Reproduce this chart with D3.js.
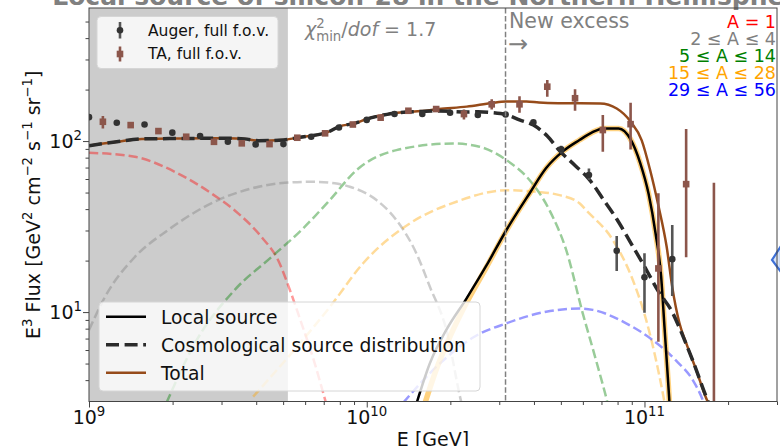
<!DOCTYPE html>
<html>
<head>
<meta charset="utf-8">
<script src="https://cdn.jsdelivr.net/npm/d3@7"></script>
<style>
  html, body { margin: 0; padding: 0; background: #fff; }
  svg { display: block; font-family: "DejaVu Sans", sans-serif; }
</style>
</head>
<body>
<svg id="chart" width="780" height="446"></svg>
<script>
// Energies are log10(E / GeV); fluxes are E^3 J(E) in GeV^2 cm^-2 s^-1 sr^-1.

// Auger spectrum (full field of view)
const augerLogE = [9.0, 9.1, 9.2, 9.3, 9.4, 9.5, 9.6, 9.7, 9.8, 9.9, 10.0, 10.1, 10.2, 10.3, 10.4, 10.5, 10.6, 10.7, 10.8, 10.9, 11.0, 11.1];
const augerFlux = [138, 128, 125, 112, 107, 99, 95.6, 96, 106, 120, 133, 144, 144, 146.5, 142, 143, 128.6, 89.4, 63.3, 22.8, 16.0, 20.4];
const augerLow  = [135, 125.5, 122.5, 110, 105, 97, 93.8, 94, 104, 117.5, 130.5, 141, 141, 143.5, 139, 139.5, 124.5, 85, 59.2, 17.4, 9.9, 12.4];
const augerHigh = [141, 130.5, 127.5, 114, 109, 101, 97.4, 98, 108, 122.5, 135.5, 147, 147, 149.5, 145, 146.5, 132.7, 94, 69.2, 27.9, 22.1, 32.3];

// TA spectrum (full field of view)
const taLogE = [9.05, 9.15, 9.25, 9.35, 9.45, 9.55, 9.65, 9.75, 9.85, 9.95, 10.05, 10.15, 10.25, 10.35, 10.45, 10.55, 10.65, 10.75, 10.85, 10.95, 11.05, 11.15, 11.25];
const taFlux = [129.7, 124, 114.4, 106, 99, 97, 96, 104.6, 111, 125, 137, 150.4, 153.9, 143.8, 164, 164, 208, 178, 116, 125.6, 18, 56, 1.5];
const taLow  = [118.6, 120, 111, 103, 96, 94, 93, 101.5, 108, 121, 133, 146, 149, 133.9, 153, 146.3, 181.6, 150.4, 86.5, 89.4, 6.7, 20.9, 0.5];
const taHigh = [140, 128, 118, 109, 102, 100, 99, 108, 114, 129, 141, 155, 159, 153, 175.4, 183, 227.5, 200.6, 142, 167.6, 49.6, 117.5, 57];

// Model curves: [log10(E), flux]
const totalModel = [[9.0, 94], [9.1, 99], [9.19, 103], [9.35, 103.5], [9.5, 104], [9.56, 103], [9.61, 100.5], [9.70, 101.5],
  [9.755, 105], [9.855, 112], [9.903, 122], [9.957, 127], [10.0, 134.5], [10.06, 142], [10.11, 146.5], [10.2, 150],
  [10.26, 154], [10.36, 159], [10.45, 167], [10.5, 170.5], [10.575, 170.5], [10.62, 168], [10.69, 166.5], [10.84, 166],
  [10.9, 155], [10.95, 130], [10.99, 101], [11.02, 68], [11.05, 42], [11.08, 24], [11.10, 14], [11.126, 8.6],
  [11.15, 6.6], [11.186, 4.6], [11.22, 3.2], [11.24, 2.7]];

const cosmoModel = [[9.0, 94], [9.1, 99], [9.19, 103], [9.35, 103.5], [9.5, 104], [9.56, 103], [9.61, 100.5], [9.70, 101.5],
  [9.755, 105], [9.855, 112], [9.903, 122], [9.957, 127], [10.0, 134.5], [10.06, 142], [10.11, 146.5], [10.2, 149],
  [10.26, 150], [10.36, 148], [10.4, 148.5], [10.45, 147], [10.5, 143], [10.55, 133], [10.6, 124], [10.65, 107],
  [10.694, 88], [10.75, 72], [10.8, 60], [10.85, 46], [10.9, 35], [10.95, 25.5], [11.0, 18.5], [11.05, 13.2],
  [11.1, 10], [11.13, 7.8], [11.15, 6.5], [11.174, 5.2], [11.222, 3.2], [11.24, 2.7]];

const localModel = [[10.18, 2.95], [10.227, 5.0], [10.287, 7.9], [10.359, 12.0], [10.43, 18.6], [10.503, 30.2],
  [10.586, 49.4], [10.646, 69.5], [10.706, 87], [10.766, 101.4], [10.81, 112], [10.853, 118.6],
  [10.907, 118.6], [10.95, 102.3], [10.985, 74.1], [11.015, 49], [11.04, 28.8], [11.06, 16.1], [11.072, 8.2],
  [11.084, 4.17], [11.09, 2.95]];

const localSilicon = [[10.21, 2.95], [10.25, 4.6], [10.3, 7.2], [10.36, 11.4], [10.43, 18.2], [10.503, 30.0],
  [10.586, 49.4], [10.646, 69.5], [10.706, 87], [10.766, 101.4], [10.81, 112], [10.853, 118.6],
  [10.907, 118.6], [10.95, 102.3], [10.985, 74.1], [11.015, 49], [11.04, 28.8], [11.06, 16.1], [11.072, 8.2],
  [11.084, 4.17], [11.09, 2.95]];

// Cosmological contributions by mass group
const cosmoA1 = [[9.0, 85.5], [9.165, 80.9], [9.309, 66.1], [9.441, 49.4], [9.537, 37.8], [9.621, 27.5],
  [9.681, 20.1], [9.723, 13.5], [9.765, 8.6], [9.813, 5.0], [9.847, 3.2], [9.86, 2.7]];
const cosmoA2to4 = [[9.0, 7.85], [9.058, 12.3], [9.165, 21.0], [9.285, 30.2], [9.465, 45.2], [9.585, 52.8],
  [9.705, 57.0], [9.801, 57.8], [9.885, 56.6], [9.939, 54.1], [10.035, 45.2], [10.107, 34.5], [10.179, 22.0],
  [10.227, 14.1], [10.287, 7.85], [10.341, 2.95], [10.35, 2.6]];
const cosmoA5to14 = [[9.279, 2.95], [9.381, 6.56], [9.525, 13.5], [9.657, 21.0], [9.765, 30.2], [9.867, 45.2],
  [9.963, 67.6], [10.107, 88.5], [10.311, 96.8], [10.406, 92.7], [10.503, 77.4], [10.586, 59.2], [10.658, 39.4],
  [10.718, 23.1], [10.778, 9.8], [10.826, 5.2], [10.868, 2.9], [10.875, 2.6]];
const cosmoA15to28 = [[9.591, 3.2], [9.75, 6.3], [9.867, 10.7], [9.987, 19.3], [10.155, 33.0], [10.323, 44.2],
  [10.503, 51.6], [10.61, 50.5], [10.694, 48.3], [10.766, 43.3], [10.79, 39.4], [10.886, 26.4], [10.958, 15.4],
  [11.006, 9.0], [11.042, 5.2], [11.066, 3.35], [11.075, 2.8]];
const cosmoA29to56 = [[10.131, 2.95], [10.263, 5.0], [10.389, 7.2], [10.503, 8.6], [10.646, 10.05], [10.766, 10.5],
  [10.814, 10.3], [10.934, 8.6], [11.03, 6.85], [11.114, 5.2], [11.174, 4.0], [11.21, 3.05], [11.22, 2.75]];

const massLabels = ["A = 1", "2 ≤ A ≤ 4", "5 ≤ A ≤ 14", "15 ≤ A ≤ 28", "29 ≤ A ≤ 56"];
const massColors = ["#ff0000", "#808080", "#008000", "#ffa500", "#0000ff"];
const cosmoComponents = [cosmoA1, cosmoA2to4, cosmoA5to14, cosmoA15to28, cosmoA29to56];

const xMajorTicks = [1e9, 1e10, 1e11];
const yMajorTicks = [10, 100];
const ankleEnergy = 5.2e9;      // end of shaded low-energy band
const excessEnergy = 3.16e10;   // start of the "new excess" region
const chi2dof = 1.7;

// ---------------------------------------------------------------
const svg = d3.select("#chart");
const plotL = 89, plotR = 777, plotT = 8, plotB = 401.5;

const x = d3.scaleLog().domain([1e9, 3e11]).range([plotL, plotR]);
const y = d3.scaleLog().domain([3, 600]).range([plotB, plotT]);
const px = d => x(Math.pow(10, d[0]));
const py = d => y(d[1]);

svg.append("defs").append("clipPath").attr("id", "plotclip")
  .append("rect").attr("x", plotL).attr("y", plotT).attr("width", plotR - plotL).attr("height", plotB - plotT);

// Title (partly above the top of the figure)
svg.append("text")
  .attr("x", (plotL + plotR) / 2).attr("y", 5)
  .attr("text-anchor", "middle")
  .attr("font-size", 25).attr("font-weight", "bold").attr("fill", "#808080")
  .text("Local source of silicon-28 in the Northern Hemisphere");

const plot = svg.append("g").attr("clip-path", "url(#plotclip)");

// Shaded band
plot.append("rect")
  .attr("x", x(1e9)).attr("y", plotT)
  .attr("width", x(ankleEnergy) - x(1e9)).attr("height", plotB - plotT)
  .attr("fill", "#cccccc");

const line = d3.line().x(px).y(py).curve(d3.curveMonotoneX);

// Cosmological mass-group contributions
cosmoComponents.forEach((c, i) => {
  plot.append("path").datum(c)
    .attr("d", line)
    .attr("fill", "none")
    .attr("stroke", massColors[i])
    .attr("stroke-opacity", 0.4)
    .attr("stroke-width", 2.5)
    .attr("stroke-dasharray", "9.25,4");
});

// Local silicon group (broad orange band)
plot.append("path").datum(localSilicon)
  .attr("d", line).attr("fill", "none")
  .attr("stroke", "#ffa500").attr("stroke-opacity", 0.5).attr("stroke-width", 5.5);

// Total
plot.append("path").datum(totalModel)
  .attr("d", line).attr("fill", "none")
  .attr("stroke", "#964b1a").attr("stroke-width", 2.5);

// Local source total
plot.append("path").datum(localModel)
  .attr("d", line).attr("fill", "none")
  .attr("stroke", "#000").attr("stroke-width", 2.5);

// Cosmological source distribution
plot.append("path").datum(cosmoModel)
  .attr("d", line).attr("fill", "none")
  .attr("stroke", "#2b2b2b").attr("stroke-width", 3.5)
  .attr("stroke-dasharray", "13,5.6");

// Data points with error bars
const auger = augerLogE.map((e, i) => ({ e, f: augerFlux[i], lo: augerLow[i], hi: augerHigh[i] }));
const ta = taLogE.map((e, i) => ({ e, f: taFlux[i], lo: taLow[i], hi: taHigh[i] }));

plot.selectAll(".augerErr").data(auger).join("line")
  .attr("x1", d => x(Math.pow(10, d.e))).attr("x2", d => x(Math.pow(10, d.e)))
  .attr("y1", d => y(d.lo)).attr("y2", d => y(d.hi))
  .attr("stroke", "#555").attr("stroke-width", 2.6);
plot.selectAll(".augerPt").data(auger).join("circle")
  .attr("cx", d => x(Math.pow(10, d.e))).attr("cy", d => y(d.f))
  .attr("r", 3.3).attr("fill", "#333");

plot.selectAll(".taErr").data(ta).join("line")
  .attr("x1", d => x(Math.pow(10, d.e))).attr("x2", d => x(Math.pow(10, d.e)))
  .attr("y1", d => y(d.lo)).attr("y2", d => y(d.hi))
  .attr("stroke", "#8c564b").attr("stroke-width", 2.6);
plot.selectAll(".taPt").data(ta).join("rect")
  .attr("x", d => x(Math.pow(10, d.e)) - 3.3).attr("y", d => y(d.f) - 3.3)
  .attr("width", 6.6).attr("height", 6.6).attr("fill", "#8c564b");

// "New excess" boundary
plot.append("line")
  .attr("x1", x(excessEnergy)).attr("x2", x(excessEnergy))
  .attr("y1", plotT).attr("y2", plotB)
  .attr("stroke", "#808080").attr("stroke-width", 1.5)
  .attr("stroke-dasharray", "5.5,2.4");

// Marker partly outside the frame on the right
svg.append("path")
  .attr("d", "M781,246 L772,260 L781,272 Z")
  .attr("fill", "#dbe5f7").attr("stroke", "#3d6fd6").attr("stroke-width", 2.2);

// ---------------------------------------------------------------
// Axes
const frame = svg.append("g");
frame.append("rect")
  .attr("x", plotL).attr("y", plotT).attr("width", plotR - plotL).attr("height", plotB - plotT)
  .attr("fill", "none").attr("stroke", "#444").attr("stroke-width", 1);

const xMinor = [];
[1e9, 1e10, 1e11].forEach(d => { for (let k = 2; k <= 9; k++) if (d * k <= 3e11) xMinor.push(d * k); });
const yMinor = [];
[1, 10, 100].forEach(d => { for (let k = 2; k <= 9; k++) if (d * k > 3 && d * k < 600) yMinor.push(d * k); });

const xAxisG = svg.append("g").attr("transform", `translate(0,${plotB})`);
xAxisG.call(d3.axisBottom(x).tickValues(xMinor).tickSize(3.5).tickFormat(""));
xAxisG.call(g => g.select(".domain").remove());
const xAxisMajor = svg.append("g").attr("transform", `translate(0,${plotB})`);
xAxisMajor.call(d3.axisBottom(x).tickValues(xMajorTicks).tickSize(6).tickFormat(""));
xAxisMajor.call(g => g.select(".domain").remove());

const yAxisG = svg.append("g").attr("transform", `translate(${plotL},0)`);
yAxisG.call(d3.axisLeft(y).tickValues(yMinor).tickSize(3.5).tickFormat(""));
yAxisG.call(g => g.select(".domain").remove());
const yAxisMajor = svg.append("g").attr("transform", `translate(${plotL},0)`);
yAxisMajor.call(d3.axisLeft(y).tickValues(yMajorTicks).tickSize(6).tickFormat(""));
yAxisMajor.call(g => g.select(".domain").remove());
svg.selectAll(".tick line").attr("stroke", "#444").attr("stroke-width", 1);

// Rich text helper for super/subscripts
function rich(sel, parts, fs) {
  let shift = 0;
  parts.forEach(p => {
    const [s, kind, style, dx] = p;
    const target = kind === "sup" ? -0.42 * fs : kind === "sub" ? 0.24 * fs : 0;
    const t = sel.append("tspan").attr("dy", target - shift).text(s);
    if (kind) t.attr("font-size", fs * 0.7);
    if (style) t.attr("font-style", style);
    if (dx) t.attr("dx", dx);
    shift = target;
  });
}

const tickFs = 19;
xMajorTicks.forEach(v => {
  const t = svg.append("text").attr("x", x(v)).attr("y", 424)
    .attr("text-anchor", "middle").attr("font-size", tickFs).attr("fill", "#111");
  rich(t, [["10"], [String(Math.round(Math.log10(v))), "sup"]], tickFs);
});
yMajorTicks.forEach(v => {
  const t = svg.append("text").attr("x", 82).attr("y", y(v) + 7)
    .attr("text-anchor", "end").attr("font-size", tickFs).attr("fill", "#111");
  rich(t, [["10"], [String(Math.round(Math.log10(v))), "sup"]], tickFs);
});

// Axis labels
svg.append("text").attr("x", (plotL + plotR) / 2).attr("y", 446)
  .attr("text-anchor", "middle").attr("font-size", 19).attr("fill", "#111")
  .text("E [GeV]");
const yl = svg.append("text")
  .attr("transform", `translate(40,${(plotT + plotB) / 2}) rotate(-90)`)
  .attr("text-anchor", "middle").attr("font-size", 19).attr("fill", "#111");
rich(yl, [["E"], ["3", "sup"], [" Flux [GeV"], ["2", "sup"], [" cm"], ["−2", "sup"], [" s"], ["−1", "sup"], [" sr"], ["−1", "sup"], ["]"]], 19);

// ---------------------------------------------------------------
// Annotations
const chi = svg.append("text").attr("x", 305).attr("y", 36)
  .attr("font-size", 19).attr("fill", "#808080");
rich(chi, [["χ", null, "italic"], ["2", "sup"], ["min", "sub", null, -8.5], ["/"], ["dof", null, "italic"], [" = " + chi2dof]], 19);

svg.append("text").attr("x", 509).attr("y", 28)
  .attr("font-size", 20.5).attr("fill", "#808080").text("New excess");
svg.append("text").attr("x", 508).attr("y", 52)
  .attr("font-size", 24).attr("fill", "#808080").text("→");

massLabels.forEach((lab, i) => {
  svg.append("text").attr("x", 776).attr("y", 28 + 17 * i)
    .attr("text-anchor", "end").attr("font-size", 17.5)
    .attr("fill", massColors[i]).text(lab);
});

// ---------------------------------------------------------------
// Legend: data sets
const leg1 = svg.append("g");
leg1.append("rect").attr("x", 97).attr("y", 16.5).attr("width", 181).attr("height", 52).attr("rx", 4)
  .attr("fill", "#fff").attr("fill-opacity", 0.8).attr("stroke", "#d6d6d6").attr("stroke-width", 1);
leg1.append("line").attr("x1", 120).attr("x2", 120).attr("y1", 22).attr("y2", 38.5)
  .attr("stroke", "#555").attr("stroke-width", 2.6);
leg1.append("circle").attr("cx", 120).attr("cy", 30.3).attr("r", 3.3).attr("fill", "#333");
leg1.append("line").attr("x1", 120).attr("x2", 120).attr("y1", 46.5).attr("y2", 61.5)
  .attr("stroke", "#8c564b").attr("stroke-width", 2.6);
leg1.append("rect").attr("x", 116.7).attr("y", 50.7).attr("width", 6.6).attr("height", 6.6).attr("fill", "#8c564b");
leg1.append("text").attr("x", 148).attr("y", 36).attr("font-size", 15.5).attr("fill", "#111").text("Auger, full f.o.v.");
leg1.append("text").attr("x", 148).attr("y", 59).attr("font-size", 15.5).attr("fill", "#111").text("TA, full f.o.v.");

// Legend: model curves
const leg2 = svg.append("g");
leg2.append("rect").attr("x", 99).attr("y", 302).attr("width", 381).attr("height", 89).attr("rx", 4)
  .attr("fill", "#fff").attr("fill-opacity", 0.8).attr("stroke", "#d6d6d6").attr("stroke-width", 1);
const legItems = [
  { label: "Local source", color: "#000", width: 2.5, dash: null },
  { label: "Cosmological source distribution", color: "#2b2b2b", width: 3.5, dash: "13,5.6" },
  { label: "Total", color: "#964b1a", width: 2.5, dash: null }
];
legItems.forEach((it, i) => {
  const cy = 316.7 + 28 * i;
  const l = leg2.append("line").attr("x1", 106).attr("x2", 146).attr("y1", cy).attr("y2", cy)
    .attr("stroke", it.color).attr("stroke-width", it.width);
  if (it.dash) l.attr("stroke-dasharray", it.dash);
  leg2.append("text").attr("x", 161).attr("y", cy + 6.8).attr("font-size", 18.7).attr("fill", "#111").text(it.label);
});
</script>
</body>
</html>
